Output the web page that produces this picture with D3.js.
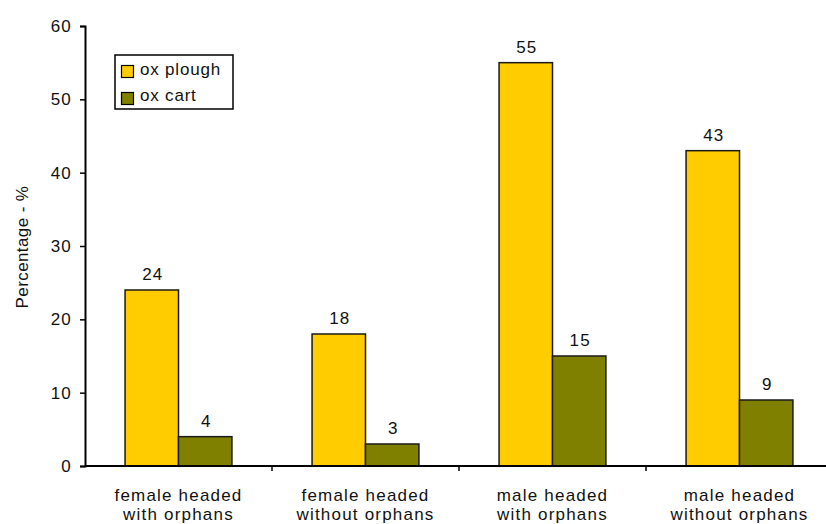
<!DOCTYPE html>
<html>
<head>
<meta charset="utf-8">
<script src="https://cdn.jsdelivr.net/npm/d3@7"></script>
<style>
  html, body { margin: 0; padding: 0; background: #fff; }
  svg text { font-family: "Liberation Sans", Arial, sans-serif; fill: #111; letter-spacing: 1.2px; }
</style>
</head>
<body>
<svg id="chart" width="826" height="524"></svg>
<script>
// Household groups and the share owning each implement
const categories = [
  ["female headed", "with orphans"],
  ["female headed", "without orphans"],
  ["male headed", "with orphans"],
  ["male headed", "without orphans"]
];
const seriesNames = ["ox plough", "ox cart"];
const oxPlough = [24, 18, 55, 43];
const oxCart = [4, 3, 15, 9];
const yTicks = [0, 10, 20, 30, 40, 50, 60];
const colors = ["#FFCC00", "#808000"];

const svg = d3.select("#chart");
const plotLeft = 85, plotTop = 26, plotBottom = 466, plotRight = 833;
const fontSize = 17;

const x = d3.scaleBand()
  .domain(d3.range(categories.length))
  .range([plotLeft, plotRight])
  .paddingInner(0).paddingOuter(0);

const y = d3.scaleLinear().domain([0, 60]).range([plotBottom, plotTop]);

const inner = d3.scaleBand()
  .domain(d3.range(seriesNames.length))
  .range([0, x.bandwidth()])
  .paddingInner(0)
  .paddingOuter(0.75);

const series = [oxPlough, oxCart];

// Bars
series.forEach((vals, si) => {
  svg.append("g").selectAll("rect")
    .data(vals)
    .join("rect")
    .attr("x", (d, i) => x(i) + inner(si))
    .attr("y", d => y(d))
    .attr("width", inner.bandwidth())
    .attr("height", d => y(0) - y(d))
    .attr("fill", colors[si])
    .attr("stroke", "#1a1a1a")
    .attr("stroke-width", 1.5);

  // Value labels
  svg.append("g").selectAll("text")
    .data(vals)
    .join("text")
    .attr("x", (d, i) => x(i) + inner(si) + inner.bandwidth() / 2 + 1)
    .attr("y", d => y(d) - 10)
    .attr("text-anchor", "middle")
    .attr("font-size", fontSize)
    .text(d => d);
});

// Y axis
const yAxis = svg.append("g")
  .attr("transform", `translate(${plotLeft},0)`)
  .call(d3.axisLeft(y).tickValues(yTicks).tickSize(5).tickPadding(8));
yAxis.select(".domain").attr("stroke", "#000").attr("stroke-width", 2);
yAxis.selectAll(".tick line").attr("stroke", "#000").attr("stroke-width", 1.5);
yAxis.selectAll(".tick text")
  .attr("font-size", fontSize)
  .style("font-family", "Liberation Sans, Arial, sans-serif")
  .style("fill", "#111");

// X axis: ticks between categories
const xAxisG = svg.append("g").attr("transform", `translate(0,${plotBottom})`);
xAxisG.append("line")
  .attr("x1", plotLeft).attr("x2", plotRight)
  .attr("y1", 0).attr("y2", 0)
  .attr("stroke", "#000").attr("stroke-width", 2);
xAxisG.selectAll("line.tk")
  .data(d3.range(1, categories.length))
  .join("line")
  .attr("class", "tk")
  .attr("x1", i => x(i)).attr("x2", i => x(i))
  .attr("y1", 0).attr("y2", 5)
  .attr("stroke", "#000").attr("stroke-width", 1.5);

// Category labels (two lines)
const catLabels = svg.append("g").selectAll("text")
  .data(categories)
  .join("text")
  .attr("text-anchor", "middle")
  .attr("font-size", fontSize);
catLabels.each(function(lines, i) {
  const t = d3.select(this);
  lines.forEach((ln, k) => {
    t.append("tspan")
      .attr("x", x(i) + x.bandwidth() / 2)
      .attr("y", plotBottom + 35 + k * 19)
      .text(ln);
  });
});

// Y axis title
svg.append("text")
  .attr("transform", `translate(28,247) rotate(-90)`)
  .attr("text-anchor", "middle")
  .attr("font-size", fontSize)
  .style("letter-spacing", "0.4px")
  .text("Percentage - %");

// Legend
const lg = svg.append("g").attr("transform", "translate(115,55)");
lg.append("rect")
  .attr("width", 118).attr("height", 54)
  .attr("fill", "#fff").attr("stroke", "#000").attr("stroke-width", 1.5);
seriesNames.forEach((name, i) => {
  lg.append("rect")
    .attr("x", 6.5).attr("y", 10.5 + i * 27)
    .attr("width", 12).attr("height", 12)
    .attr("fill", colors[i]).attr("stroke", "#000").attr("stroke-width", 1.2);
  lg.append("text")
    .attr("x", 25).attr("y", 20 + i * 26)
    .attr("font-size", fontSize)
    .style("letter-spacing", "0.8px")
    .text(name);
});
</script>
</body>
</html>
